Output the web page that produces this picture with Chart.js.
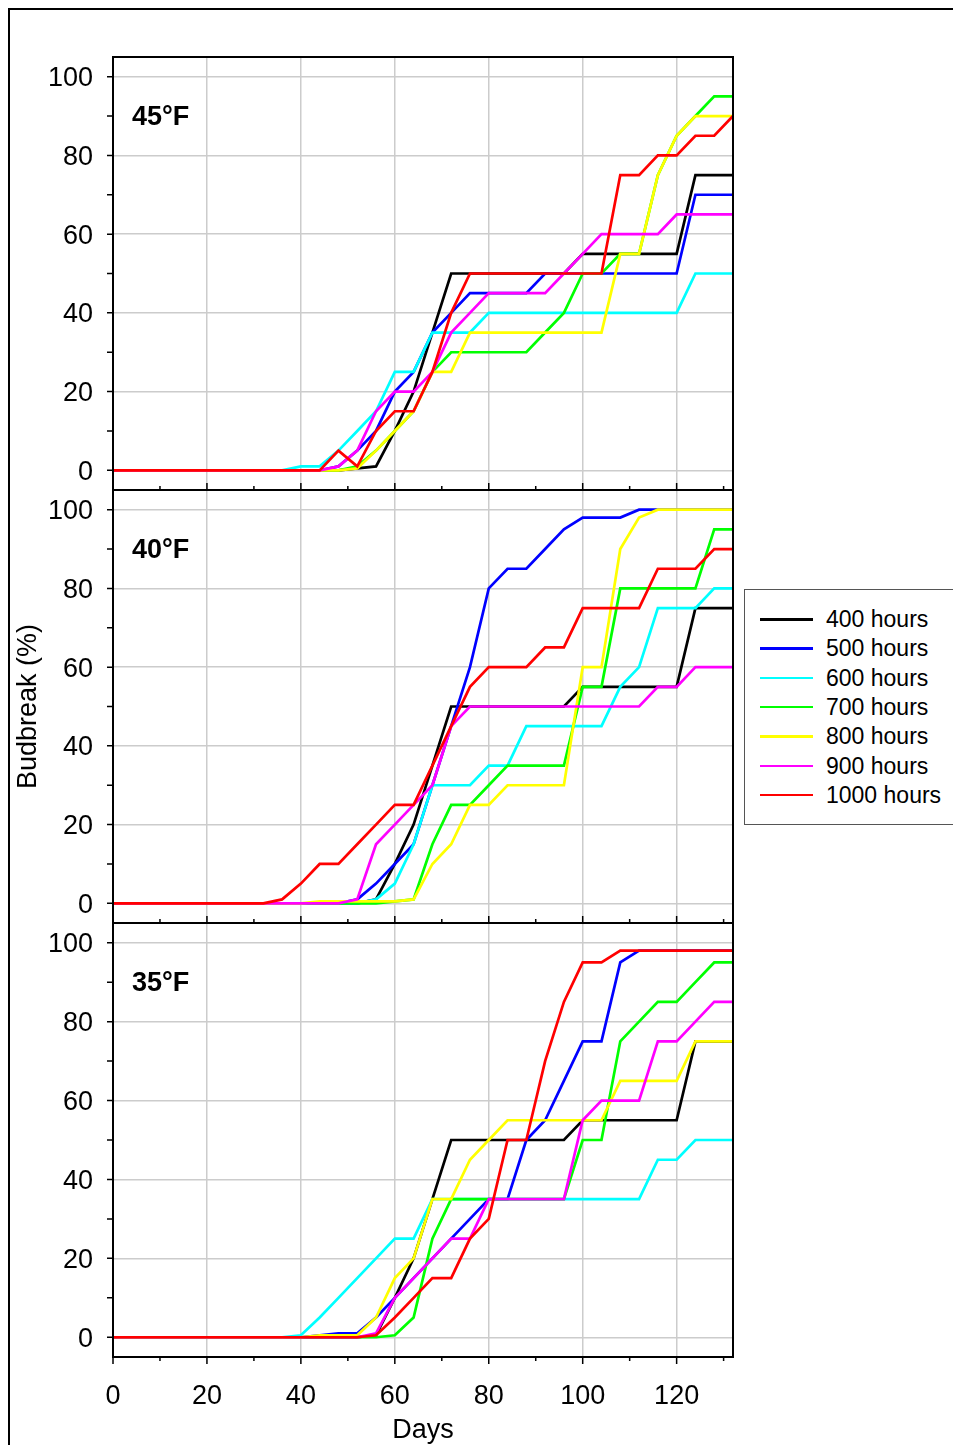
<!DOCTYPE html>
<html><head><meta charset="utf-8">
<script src="https://cdn.jsdelivr.net/npm/chart.js@4"></script>
<style>
html,body{margin:0;padding:0;background:#fff;width:953px;height:1445px;overflow:hidden;font-family:"Liberation Sans",Arial,sans-serif;}
#frame{position:absolute;left:8px;top:8px;width:1000px;height:1500px;border-left:2px solid #000;border-top:2px solid #000;}
canvas{position:absolute;left:0;}
#legend{position:absolute;left:744px;top:589px;width:300px;height:234px;border:1px solid #555;background:#fff;z-index:5;}
.row{position:absolute;left:0;height:0;}
.row .ln{position:absolute;left:15px;width:53px;top:-1px;height:2.5px;}
.row .tx{position:absolute;left:81px;top:-14px;font-size:23px;line-height:28px;white-space:nowrap;color:#000;}
</style></head>
<body>
<div id="frame"></div>
<canvas id="c45" width="760" height="513" style="top:17px"></canvas>
<canvas id="c40" width="760" height="513" style="top:450px"></canvas>
<canvas id="c35" width="760" height="564" style="top:883px"></canvas>
<div id="legend"></div>
<script>
const FONT = '"Liberation Sans", Arial, sans-serif';
const days = [0,4,8,12,16,20,24,28,32,36,40,44,48,52,56,60,64,68,72,76,80,84,88,92,96,100,104,108,112,116,120,124,128,132];
const seriesNames = ['400 hours','500 hours','600 hours','700 hours','800 hours','900 hours','1000 hours'];
const seriesColors = ['#000000','#0000ff','#00ffff','#00ff00','#ffff00','#ff00ff','#ff0000'];
const panelTitles = ['45\u00b0F','40\u00b0F','35\u00b0F'];
const yTickLabels = [0,20,40,60,80,100];
const xTickLabels = [0,20,40,60,80,100,120];
const yTickMarks = [0,10,20,30,40,50,60,70,80,90,100];
const xTickMarks = [0,10,20,30,40,50,60,70,80,90,100,110,120,130];

// 45°F
const bud45_400 = [0,0,0,0,0,0,0,0,0,0,0,0,0,0.5,1,10,20,35,50,50,50,50,50,50,50,55,55,55,55,55,55,75,75,75];
const bud45_500 = [0,0,0,0,0,0,0,0,0,0,0,0,1,5,10,20,25,35,40,45,45,45,45,50,50,50,50,50,50,50,50,70,70,70];
const bud45_600 = [0,0,0,0,0,0,0,0,0,0,1,1,5,10,15,25,25,35,35,35,40,40,40,40,40,40,40,40,40,40,40,50,50,50];
const bud45_700 = [0,0,0,0,0,0,0,0,0,0,0,0,0,1,5,10,15,25,30,30,30,30,30,35,40,50,50,55,55,75,85,90,95,95];
const bud45_800 = [0,0,0,0,0,0,0,0,0,0,0,0,0,0.5,5,10,15,25,25,35,35,35,35,35,35,35,35,55,55,75,85,90,90,90];
const bud45_900 = [0,0,0,0,0,0,0,0,0,0,0,0,1,5,15,20,20,25,35,40,45,45,45,45,50,55,60,60,60,60,65,65,65,65];
const bud45_1000 = [0,0,0,0,0,0,0,0,0,0,0,0,5,1,10,15,15,25,40,50,50,50,50,50,50,50,50,75,75,80,80,85,85,90];
// 40°F
const bud40_400 = [0,0,0,0,0,0,0,0,0,0,0,0,0,0,1,10,20,35,50,50,50,50,50,50,50,55,55,55,55,55,55,75,75,75];
const bud40_500 = [0,0,0,0,0,0,0,0,0,0,0,0,0,1,5,10,15,30,45,60,80,85,85,90,95,98,98,98,100,100,100,100,100,100];
const bud40_600 = [0,0,0,0,0,0,0,0,0,0,0,0,0,0,1,5,15,30,30,30,35,35,45,45,45,45,45,55,60,75,75,75,80,80];
const bud40_700 = [0,0,0,0,0,0,0,0,0,0,0,0,0,0,0,0.5,1,15,25,25,30,35,35,35,35,55,55,80,80,80,80,80,95,95];
const bud40_800 = [0,0,0,0,0,0,0,0,0,0,0,0.5,0.5,0.5,0.5,0.5,1,10,15,25,25,30,30,30,30,60,60,90,98,100,100,100,100,100];
const bud40_900 = [0,0,0,0,0,0,0,0,0,0,0,0,0,1,15,20,25,30,45,50,50,50,50,50,50,50,50,50,50,55,55,60,60,60];
const bud40_1000 = [0,0,0,0,0,0,0,0,0,1,5,10,10,15,20,25,25,35,45,55,60,60,60,65,65,75,75,75,75,85,85,85,90,90];
// 35°F
const bud35_400 = [0,0,0,0,0,0,0,0,0,0,0,0,0,0,0.5,10,20,35,50,50,50,50,50,50,50,55,55,55,55,55,55,75,75,75];
const bud35_500 = [0,0,0,0,0,0,0,0,0,0,0,0.5,1,1,5,10,15,20,25,30,35,35,50,55,65,75,75,95,98,98,98,98,98,98];
const bud35_600 = [0,0,0,0,0,0,0,0,0,0,0.5,5,10,15,20,25,25,35,35,35,35,35,35,35,35,35,35,35,35,45,45,50,50,50];
const bud35_700 = [0,0,0,0,0,0,0,0,0,0,0,0,0,0,0,0.5,5,25,35,35,35,35,35,35,35,50,50,75,80,85,85,90,95,95];
const bud35_800 = [0,0,0,0,0,0,0,0,0,0,0,0.5,0.5,0.5,5,15,20,35,35,45,50,55,55,55,55,55,55,65,65,65,65,75,75,75];
const bud35_900 = [0,0,0,0,0,0,0,0,0,0,0,0,0,0,1,10,15,20,25,25,35,35,35,35,35,55,60,60,60,75,75,80,85,85];
const bud35_1000 = [0,0,0,0,0,0,0,0,0,0,0,0,0,0,0.5,5,10,15,15,25,30,50,50,70,85,95,95,98,98,98,98,98,98,98];

const panel45 = [bud45_400,bud45_500,bud45_600,bud45_700,bud45_800,bud45_900,bud45_1000];
const panel40 = [bud40_400,bud40_500,bud40_600,bud40_700,bud40_800,bud40_900,bud40_1000];
const panel35 = [bud35_400,bud35_500,bud35_600,bud35_700,bud35_800,bud35_900,bud35_1000];

const framePlugin = {
  id: 'panelFrame',
  afterDatasetsDraw(chart, args, opts) {
    const {ctx, chartArea: a, scales: {x, y}} = chart;
    ctx.save();
    ctx.strokeStyle = '#000';
    ctx.lineWidth = 2;
    ctx.strokeRect(a.left, a.top, a.right - a.left, a.bottom - a.top);
    ctx.lineWidth = 1.5;
    ctx.beginPath();
    for (const v of yTickMarks) {
      const py = y.getPixelForValue(v);
      ctx.moveTo(a.left - 6, py); ctx.lineTo(a.left, py);
    }
    for (const d of xTickMarks) {
      const px = x.getPixelForValue(d);
      const len = d % 20 === 0 ? 7 : 4;
      ctx.moveTo(px, a.bottom);
      ctx.lineTo(px, opts.outward ? a.bottom + len : a.bottom - len);
    }
    ctx.stroke();
    ctx.font = 'bold 27px ' + FONT;
    ctx.fillStyle = '#000';
    ctx.textBaseline = 'middle';
    ctx.textAlign = 'left';
    ctx.fillText(opts.label, a.left + 19, a.top + 61);
    ctx.restore();
  }
};

function makePanel(id, title, series, isBottom, showYTitle) {
  const datasets = series.map((vals, i) => ({
    label: seriesNames[i],
    data: vals.map((v, j) => ({x: days[j], y: v})),
    borderColor: seriesColors[i],
    backgroundColor: seriesColors[i],
    borderWidth: 2.7,
    pointRadius: 0,
    fill: false,
    tension: 0,
    order: series.length - 1 - i
  }));
  const gridStyle = {color: '#cccccc', lineWidth: 1.5, drawTicks: false};
  new Chart(document.getElementById(id), {
    type: 'line',
    data: {datasets},
    options: {
      responsive: false, animation: false, events: [],
      layout: {padding: {top: 40, right: 27, left: 0, bottom: 0}},
      plugins: {legend: {display: false}, tooltip: {enabled: false}, panelFrame: {label: title, outward: isBottom}},
      scales: {
        x: {
          type: 'linear', min: 0, max: 132,
          afterBuildTicks: s => { s.ticks = xTickLabels.map(v => ({value: v})); },
          afterFit: s => { s.height = isBottom ? 90 : 40; },
          grid: gridStyle,
          border: {display: false},
          ticks: {display: isBottom, color: '#000', font: {size: 27, family: FONT}, padding: 23, maxRotation: 0, autoSkip: false},
          title: {display: isBottom, text: 'Days', color: '#000', font: {size: 27, family: FONT}, padding: {top: 0, bottom: 0}}
        },
        y: {
          type: 'linear', min: -5, max: 105,
          afterBuildTicks: s => { s.ticks = yTickLabels.map(v => ({value: v})); },
          afterFit: s => { s.width = 113; },
          grid: gridStyle,
          border: {display: false},
          ticks: {color: '#000', font: {size: 27, family: FONT}, padding: 20, labelOffset: 2},
          title: {display: showYTitle, text: 'Budbreak (%)', color: '#000', font: {size: 27, family: FONT}, padding: {top: 12, bottom: 0}}
        }
      }
    },
    plugins: [framePlugin]
  });
}

makePanel('c45', panelTitles[0], panel45, false, false);
makePanel('c40', panelTitles[1], panel40, false, true);
makePanel('c35', panelTitles[2], panel35, true, false);

const legend = document.getElementById('legend');
seriesNames.forEach((name, i) => {
  const row = document.createElement('div');
  row.className = 'row';
  row.style.top = (29 + i * 29.3) + 'px';
  const ln = document.createElement('div');
  ln.className = 'ln';
  ln.style.background = seriesColors[i];
  const tx = document.createElement('div');
  tx.className = 'tx';
  tx.textContent = name;
  row.appendChild(ln); row.appendChild(tx);
  legend.appendChild(row);
});
</script>
</body></html>
